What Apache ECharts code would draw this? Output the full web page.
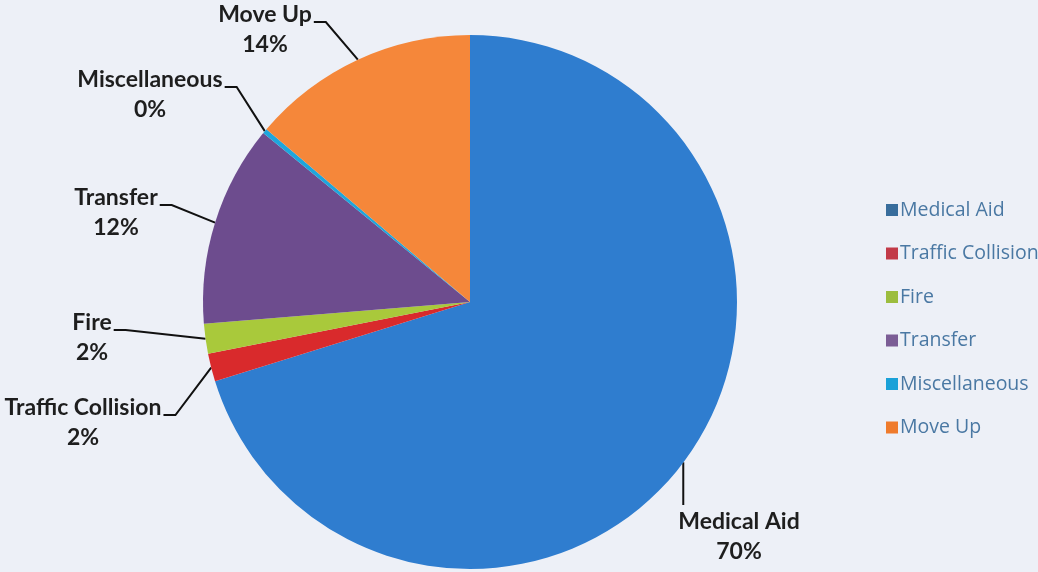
<!DOCTYPE html>
<html>
<head>
<meta charset="utf-8">
<script src="https://cdn.jsdelivr.net/npm/echarts@6/dist/echarts.min.js"></script>
<style>
  html, body { margin: 0; padding: 0; background: #edf0f7; }
  #chart { width: 1038px; height: 572px; }
</style>
</head>
<body>
<div id="chart"></div>
<script>
// Call types and their share of responses (percent)
var categories = ['Medical Aid', 'Traffic Collision', 'Fire', 'Transfer', 'Miscellaneous', 'Move Up'];
var shares = [70.2, 1.7, 1.8, 12.2, 0.3, 13.8];

// Slice colours and the slightly duller legend swatches
var sliceColors = ['#2f7dcf', '#d92a2c', '#a9c93b', '#6d4c8e', '#1ea6dc', '#f5873a'];
var swatchColors = ['#386d9c', '#c23a48', '#9cbd3e', '#7b5d95', '#1aa1d8', '#ef7b2c'];

// Where each label block is centred, and which side its leader line meets
var labelSpots = [
  { x: 739, y: 537, side: 'top' },
  { x: 83, y: 423, side: 'right' },
  { x: 92, y: 338, side: 'right' },
  { x: 116, y: 213, side: 'right' },
  { x: 150, y: 95, side: 'right' },
  { x: 265, y: 30, side: 'right' }
];

var chart = echarts.init(document.getElementById('chart'));

chart.setOption({
  backgroundColor: '#edf0f7',
  animation: false,
  legend: {
    orient: 'vertical',
    left: 881,
    top: 194,
    itemWidth: 12,
    itemHeight: 12,
    itemGap: 21.5,
    icon: 'rect',
    textStyle: {
      fontFamily: 'Open Sans',
      fontSize: 19.5,
      color: '#4a78a3',
      lineHeight: 22,
      padding: [0, 0, 0, -3]
    },
    data: categories.map(function (name, i) {
      return { name: name, itemStyle: { color: swatchColors[i] } };
    })
  },
  series: [{
    type: 'pie',
    center: [470, 302],
    radius: 267,
    startAngle: 90,
    clockwise: true,
    percentPrecision: 0,
    avoidLabelOverlap: false,
    data: categories.map(function (name, i) {
      return { name: name, value: shares[i], itemStyle: { color: sliceColors[i] } };
    }),
    label: {
      show: true,
      position: 'outside',
      formatter: '{b}\n{d}%',
      fontFamily: 'Lato',
      fontWeight: 'bold',
      fontSize: 23,
      lineHeight: 30,
      color: '#1e1e1e',
      align: 'center'
    },
    labelLine: {
      show: true,
      lineStyle: { color: '#111', width: 2 }
    },
    labelLayout: function (params) {
      var spot = labelSpots[params.dataIndex];
      var rect = params.labelRect;
      var p0 = params.labelLinePoints ? params.labelLinePoints[0] : [0, 0];
      var pts;
      if (spot.side === 'top') {
        var lx = spot.x - rect.width / 2 + 5;
        pts = [[lx, p0[1] + 2], [lx, spot.y - 32]];
      } else {
        var ex = spot.x + rect.width / 2 + 2;
        var ey = spot.y - 8;
        pts = [p0, [ex + 12, ey], [ex, ey]];
      }
      return {
        x: spot.x,
        y: spot.y,
        align: 'center',
        verticalAlign: 'middle',
        labelLinePoints: pts
      };
    }
  }]
});
</script>
</body>
</html>
